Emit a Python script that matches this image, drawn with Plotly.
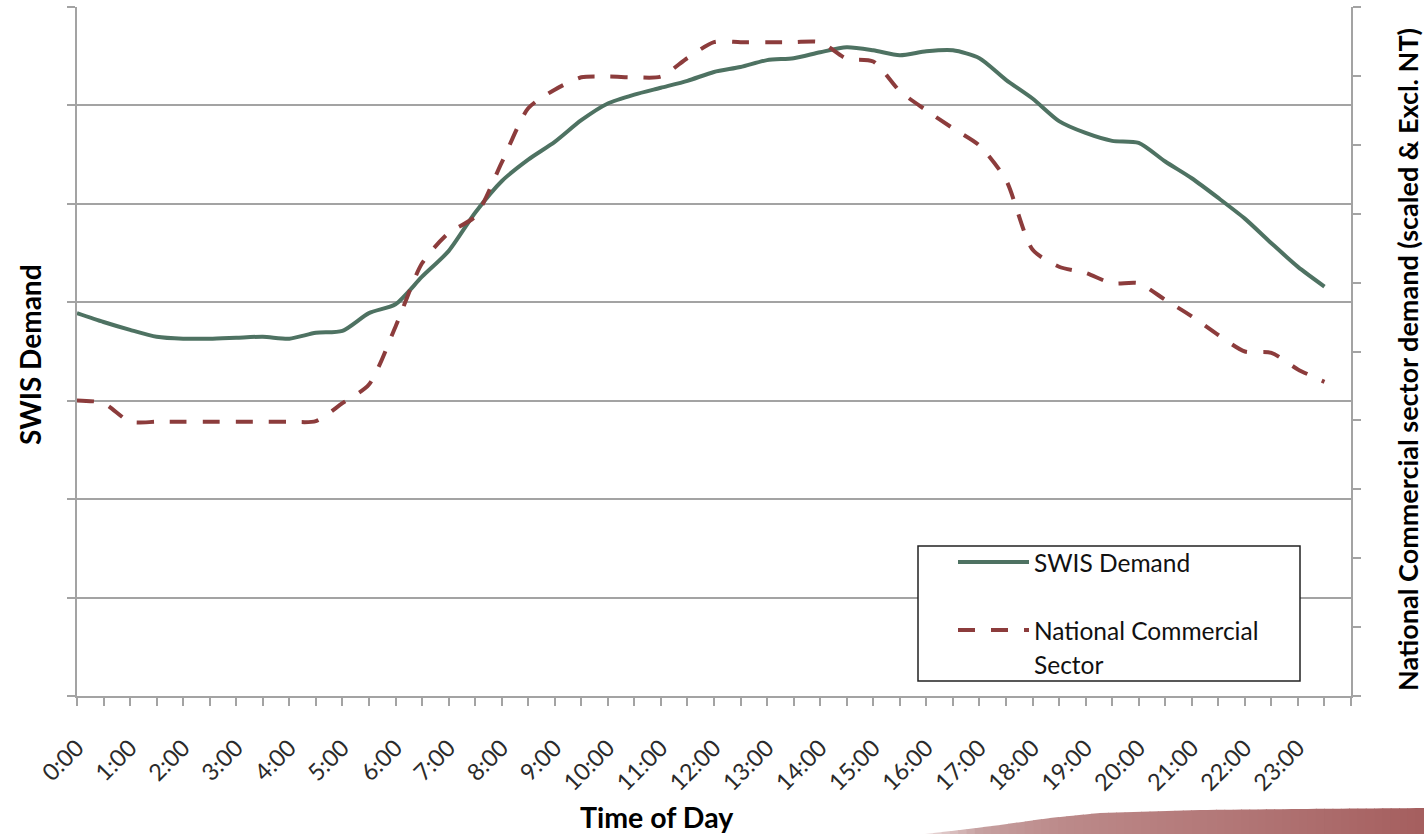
import plotly.graph_objects as go

# Half-hourly time of day (hours after midnight)
TIMES = [i * 0.5 for i in range(48)]

# SWIS demand (left axis, unlabelled units)
SWIS_DEMAND = [
    3.89, 3.80, 3.72, 3.65, 3.63, 3.63, 3.64, 3.65, 3.63, 3.69,
    3.71, 3.89, 3.98, 4.26, 4.52, 4.91, 5.23, 5.45, 5.63, 5.85,
    6.02, 6.11, 6.18, 6.25, 6.34, 6.39, 6.46, 6.48, 6.54, 6.59,
    6.56, 6.51, 6.55, 6.56, 6.48, 6.26, 6.07, 5.84, 5.72, 5.64,
    5.62, 5.43, 5.26, 5.06, 4.85, 4.60, 4.36, 4.16,
]

# National commercial sector demand (right axis, scaled)
COMMERCIAL = [
    4.29, 4.25, 3.98, 3.98, 3.98, 3.98, 3.98, 3.98, 3.98, 3.99,
    4.25, 4.52, 5.36, 6.28, 6.72, 6.96, 7.74, 8.53, 8.80, 8.98,
    8.99, 8.98, 8.99, 9.26, 9.49, 9.49, 9.49, 9.49, 9.49, 9.25,
    9.21, 8.78, 8.50, 8.24, 7.99, 7.49, 6.48, 6.23, 6.14, 5.99,
    5.99, 5.75, 5.51, 5.24, 5.00, 4.98, 4.74, 4.56,
]

# Axis ticks: every half hour, labelled on the hour
TICK_VALS = [i * 0.5 for i in range(49)]
TICK_TEXT = [f"{int(v)}:00" if v == int(v) and v < 24 else "" for v in TICK_VALS]

GREEN = "#4E7262"
RED = "#8C3C3C"
GRID = "#A3A3A3"
FONT = "Lato"

W, H = 1424, 834
L, R, T, B = 77, 73, 7, 138
PW, PH = W - L - R, H - T - B


def px(x):
    return (x - L) / PW


def py(y):
    return (H - B - y) / PH


fig = go.Figure()
fig.add_trace(go.Scatter(
    x=TIMES, y=SWIS_DEMAND, name="SWIS Demand", mode="lines",
    line=dict(color=GREEN, width=4, shape="spline", smoothing=0.7),
    yaxis="y", showlegend=False,
))
fig.add_trace(go.Scatter(
    x=TIMES, y=COMMERCIAL, name="National Commercial Sector", mode="lines",
    line=dict(color=RED, width=4, dash="17px,16px", shape="spline", smoothing=0.7),
    yaxis="y2", showlegend=False,
))

shapes = []
annotations = []

# Legend box
shapes.append(dict(type="rect", xref="paper", yref="paper",
                   x0=px(918), x1=px(1300), y0=py(681), y1=py(546),
                   line=dict(color="#222222", width=1.5), fillcolor="white", layer="above"))
shapes.append(dict(type="line", xref="paper", yref="paper",
                   x0=px(958), x1=px(1029), y0=py(562), y1=py(562),
                   line=dict(color=GREEN, width=4), layer="above"))
shapes.append(dict(type="line", xref="paper", yref="paper",
                   x0=px(958), x1=px(1029), y0=py(630), y1=py(630),
                   line=dict(color=RED, width=4, dash="17px,16px"), layer="above"))
LEG_FONT = dict(family=FONT, size=24.5, color="#111111")
annotations.append(dict(xref="paper", yref="paper", x=px(1032), y=py(562),
                        xanchor="left", yanchor="middle", showarrow=False,
                        text="SWIS Demand", font=LEG_FONT))
annotations.append(dict(xref="paper", yref="paper", x=px(1032), y=py(630),
                        xanchor="left", yanchor="middle", showarrow=False,
                        text="National Commercial", font=LEG_FONT))
annotations.append(dict(xref="paper", yref="paper", x=px(1032), y=py(664),
                        xanchor="left", yanchor="middle", showarrow=False,
                        text="Sector", font=LEG_FONT))

# Axis titles
annotations.append(dict(xref="paper", yref="paper", x=px(30), y=py(355),
                        xanchor="center", yanchor="middle", showarrow=False, textangle=-90,
                        text="<b>SWIS Demand</b>", font=dict(family=FONT, size=28, color="black")))
annotations.append(dict(xref="paper", yref="paper", x=px(1407), y=py(360),
                        xanchor="center", yanchor="middle", showarrow=False, textangle=-90,
                        text="<b>National Commercial sector demand (scaled &amp; Excl. NT)</b>",
                        font=dict(family=FONT, size=27, color="black")))
annotations.append(dict(xref="paper", yref="paper", x=px(657), y=py(817),
                        xanchor="center", yanchor="middle", showarrow=False,
                        text="<b>Time of Day</b>", font=dict(family=FONT, size=28.5, color="black")))

# Decorative swoosh along the bottom-right edge, built from vertical colour strips
edge_x = [925, 960, 1000, 1050, 1100, 1200, 1300, 1424]
edge_y = [834, 830, 825, 818, 813, 810, 809, 808]
col_x = [925, 980, 1060, 1200, 1320, 1424]
col_c = [(236, 220, 220), (198, 160, 160), (188, 138, 138), (180, 122, 122), (172, 108, 108), (165, 94, 94)]


def interp(x, xs, ys):
    for i in range(len(xs) - 1):
        if xs[i] <= x <= xs[i + 1]:
            t = (x - xs[i]) / (xs[i + 1] - xs[i])
            return ys[i] + t * (ys[i + 1] - ys[i])
    return ys[-1]


n_strips = 60
for k in range(n_strips):
    xa = 925 + (1424 - 925) * k / n_strips
    xb = 925 + (1424 - 925) * (k + 1) / n_strips + 0.8
    ya, yb = interp(xa, edge_x, edge_y), interp(min(xb, 1424), edge_x, edge_y)
    xm = (xa + xb) / 2
    c = tuple(int(round(interp(xm, col_x, [cc[j] for cc in col_c]))) for j in range(3))
    path = (f"M {px(xa)},{py(ya)} L {px(xb)},{py(yb)} "
            f"L {px(xb)},{py(H)} L {px(xa)},{py(H)} Z")
    shapes.append(dict(type="path", xref="paper", yref="paper", path=path,
                       fillcolor=f"rgb{c}", line=dict(width=0), layer="below"))

fig.update_layout(
    width=W, height=H,
    margin=dict(l=L, r=R, t=T, b=B, pad=0),
    paper_bgcolor="white", plot_bgcolor="white",
    font=dict(family=FONT, color="#222222"),
    showlegend=False,
    xaxis=dict(
        range=[0, 24], tickmode="array", tickvals=TICK_VALS, ticktext=TICK_TEXT,
        tickangle=-45, tickfont=dict(family=FONT, size=23.5, color="#2A2A2A"),
        ticklabelstandoff=19,
        ticks="outside", ticklen=8, tickwidth=1.5, tickcolor=GRID,
        showline=True, linecolor=GRID, linewidth=1.5, showgrid=False, zeroline=False,
    ),
    yaxis=dict(
        range=[0, 7], dtick=1, tick0=0, showticklabels=False,
        ticks="outside", ticklen=8, tickwidth=1.5, tickcolor=GRID,
        showline=True, linecolor=GRID, linewidth=1.5,
        showgrid=True, gridcolor=GRID, gridwidth=1.5, zeroline=False,
    ),
    yaxis2=dict(
        range=[0, 10], dtick=1, tick0=0, showticklabels=False, overlaying="y", side="right",
        ticks="outside", ticklen=8, tickwidth=1.5, tickcolor=GRID,
        showline=True, linecolor=GRID, linewidth=1.5, showgrid=False, zeroline=False,
    ),
    shapes=shapes,
    annotations=annotations,
)

fig.write_html("out.html")
